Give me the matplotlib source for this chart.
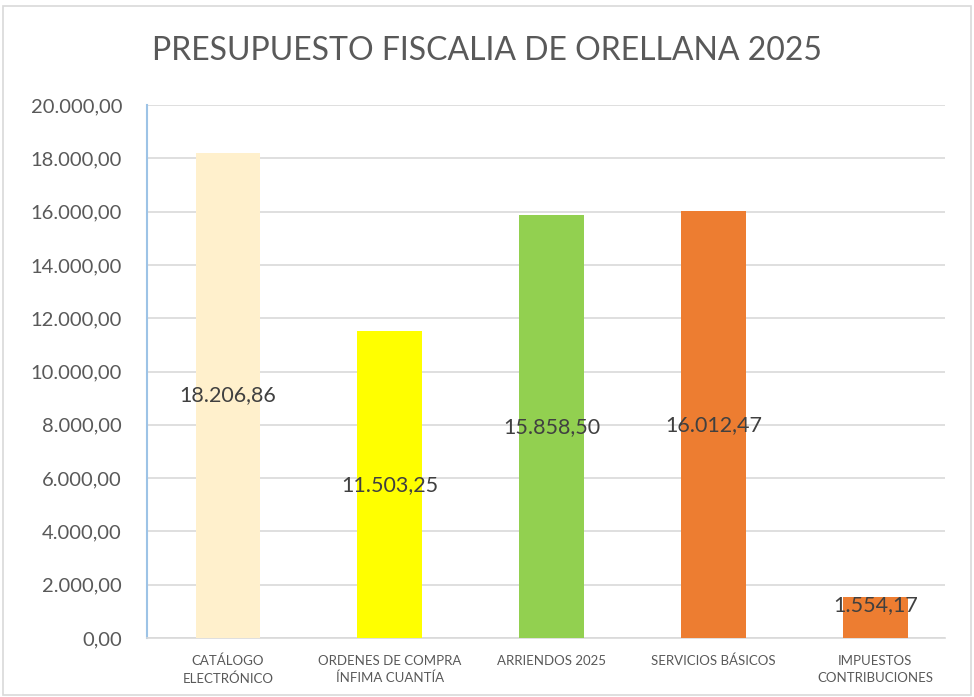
import matplotlib
matplotlib.use("Agg")
import matplotlib.pyplot as plt
from matplotlib.patches import Rectangle

categories = ["CATÁLOGO\nELECTRÓNICO", "ORDENES DE COMPRA\nÍNFIMA CUANTÍA", "ARRIENDOS 2025",
              "SERVICIOS BÁSICOS", "IMPUESTOS\nCONTRIBUCIONES"]
values = [18206.86, 11503.25, 15858.50, 16012.47, 1554.17]
value_labels = ["18.206,86", "11.503,25", "15.858,50", "16.012,47", "1.554,17"]
colors = ["#FFF0CC", "#FFFF00", "#92D050", "#ED7D31", "#ED7D31"]
yticks = [0, 2000, 4000, 6000, 8000, 10000, 12000, 14000, 16000, 18000, 20000]
ytick_labels = ["0,00", "2.000,00", "4.000,00", "6.000,00", "8.000,00", "10.000,00",
                "12.000,00", "14.000,00", "16.000,00", "18.000,00", "20.000,00"]
title = "PRESUPUESTO FISCALIA DE ORELLANA 2025"

plt.rcParams['font.family'] = ['Lato', 'DejaVu Sans']
txt = "#595959"

fig = plt.figure(figsize=(9.74, 6.97), dpi=100)
fig.patches.append(Rectangle((0.003, 0.003), 0.994, 0.989, transform=fig.transFigure,
                             fill=False, edgecolor="#D9D9D9", linewidth=1.2))
ax = fig.add_axes([147/974, 1 - 638/697, (945-147)/974, (638-105)/697])

x = range(len(values))
ax.bar(x, values, width=0.4, color=colors, zorder=3)
for i, (v, lab) in enumerate(zip(values, value_labels)):
    ax.text(i, v / 2 if v > 5000 else 1250, lab, ha="center", va="center",
            fontsize=15.5, color="#404040", zorder=4)

ax.set_xlim(-0.5, len(values) - 0.57)
ax.set_ylim(0, 20000)
ax.set_yticks(yticks)
ax.set_yticklabels(ytick_labels, fontsize=14.5, color=txt)
ax.set_xticks(list(x))
ax.set_xticklabels(categories, fontsize=9.5, color=txt, linespacing=1.5)
ax.yaxis.grid(True, color="#D9D9D9", linewidth=1.2, zorder=0)
ax.tick_params(axis="both", length=0)
ax.tick_params(axis="y", pad=18)
ax.tick_params(axis="x", pad=12)
for s in ["top", "right"]:
    ax.spines[s].set_visible(False)
ax.spines["left"].set_color("#9DC3E6")
ax.spines["left"].set_linewidth(1.5)
ax.spines["bottom"].set_color("#D9D9D9")
ax.spines["bottom"].set_linewidth(1.2)

fig.text(0.5, 1 - 51/697, title, ha="center", va="center", fontsize=23, color=txt)

fig.savefig("out.png", dpi=100)
